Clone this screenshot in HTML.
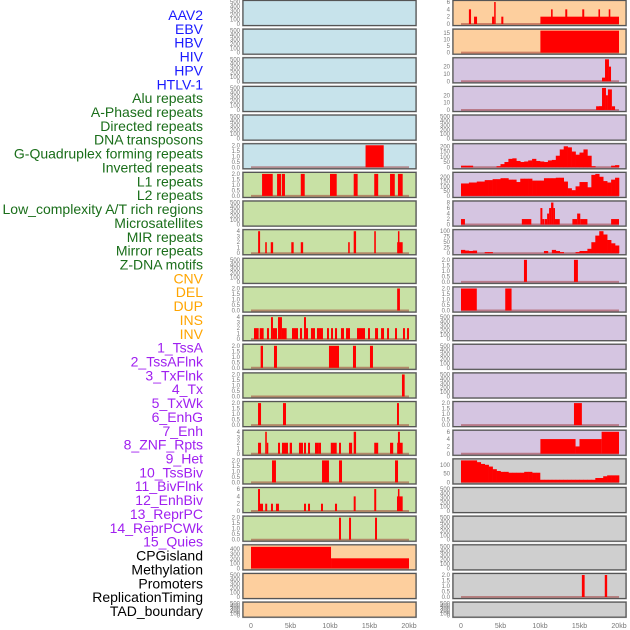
<!DOCTYPE html>
<html><head><meta charset="utf-8">
<style>
html,body{margin:0;padding:0;background:#fff;}
svg{display:block;font-family:"Liberation Sans",sans-serif;}
</style></head>
<body>
<svg id="chart" width="630" height="630" viewBox="0 0 630 630">
<g id="labels"></g>
<g id="panels"></g>
<g id="xaxis"></g>
</svg>
<script>
const trackNames = ["AAV2","EBV","HBV","HIV","HPV","HTLV-1","Alu repeats","A-Phased repeats","Directed repeats","DNA transposons","G-Quadruplex forming repeats","Inverted repeats","L1 repeats","L2 repeats","Low_complexity A/T rich regions","Microsatellites","MIR repeats","Mirror repeats","Z-DNA motifs","CNV","DEL","DUP","INS","INV","1_TssA","2_TssAFlnk","3_TxFlnk","4_Tx","5_TxWk","6_EnhG","7_Enh","8_ZNF_Rpts","9_Het","10_TssBiv","11_BivFlnk","12_EnhBiv","13_ReprPC","14_ReprPCWk","15_Quies","CPGisland","Methylation","Promoters","ReplicationTiming","TAD_boundary"];
const labelGroups = [6,13,5,15,5];
const groupColors = ["#1a1aff","#1a6e1a","#ffa500","#a020f0","#000000"];
const xTickValues = [0,5,10,15,20];
const xTickLabels = ["0","5kb","10kb","15kb","20kb"];

const leftYmax = [500,500,500,500,500,2,2,500,4,500,2,4,2,2,2,4,2,6,2,460,500,500];
const leftSegs = [
 [],[],[],[],[],
 [[14.5,16.8,2]],
 [[1.4,2.75,2],[3.3,3.8,2],[3.9,4.3,2],[6.3,6.8,2],[10.0,10.85,2],[13.0,13.5,2],[15.6,16.1,2],[17.6,18.2,2],[18.6,19.2,2]],
 [],
 [[0.9,1.15,4],[1.8,2.0,2],[2.5,2.8,2],[5.1,5.4,2],[6.3,6.6,2],[12.3,12.5,2],[13.0,13.3,4],[15.6,15.8,4],[18.5,19.2,2],[18.6,18.7,4]],
 [],
 [[18.5,18.85,2]],
 [[0.38,0.97,2],[1.1,1.6,2],[2.02,2.28,2],[2.53,2.78,4],[2.78,3.29,2],[3.42,3.67,4],[3.67,3.92,4],[3.92,4.51,2],[5.19,5.95,2],[6.2,6.46,2],[6.71,6.96,4],[6.96,7.22,2],[7.59,8.1,2],[8.35,8.61,2],[8.61,9.11,2],[9.62,9.87,2],[10.13,10.38,2],[10.63,10.89,2],[11.39,11.77,2],[12.03,12.53,2],[13.42,14.43,2],[14.81,15.06,2],[15.7,16.08,2],[16.46,16.84,2],[17.22,17.47,2],[18.23,18.48,2],[19.24,19.49,2],[19.75,20.0,2]],
 [[1.22,1.52,2],[2.91,3.29,2],[9.87,11.14,2],[12.91,13.29,2],[15.06,15.44,2]],
 [[19.11,19.45,2]],
 [[0.89,1.27,2],[4.05,4.43,2],[18.48,18.73,2]],
 [[0.89,1.27,2],[1.8,2.0,4],[2.0,2.1,2],[3.42,3.67,2],[3.92,4.68,2],[4.9,5.19,2],[6.07,6.58,2],[6.71,6.96,2],[7.22,7.47,2],[8.1,8.6,2],[8.61,8.86,2],[10.1,10.85,2],[11.14,11.39,2],[12.4,12.8,2],[13.0,13.3,4],[15.6,16.1,2],[17.6,18.0,2],[18.5,19.2,2],[18.6,18.85,4]],
 [[2.66,3.16,2],[8.99,9.87,2],[11.14,11.52,2],[18.23,18.61,2]],
 [[0.89,1.14,6],[1.14,1.52,2],[1.8,2.05,2],[2.53,2.78,2],[3.16,3.54,2],[6.71,6.96,2],[7.22,7.47,2],[8.86,9.11,2],[10.63,10.89,2],[13.0,13.25,4],[15.6,15.85,6],[18.48,19.2,4],[18.6,18.72,6]],
 [[11.14,11.39,2],[12.41,12.66,2],[15.7,15.95,2]],
 [[0,10.13,450],[10.13,20.0,210]],
 [],[]
];
const leftBg = ["#c7e3eb","#c7e3eb","#c7e3eb","#c7e3eb","#c7e3eb","#c7e3eb","#c8e1a5","#c8e1a5","#c8e1a5","#c8e1a5","#c8e1a5","#c8e1a5","#c8e1a5","#c8e1a5","#c8e1a5","#c8e1a5","#c8e1a5","#c8e1a5","#c8e1a5","#fdcf9e","#fdcf9e","#fdcf9e"];

const rightYmax = [6,17,30,30,500,210,230,8,100,2,2,500,500,500,2,6,125,500,500,500,2,500];
const rightSegs = [
 [[1.0,1.27,4],[1.65,2.03,2],[3.93,4.2,2],[4.2,4.35,6],[5.1,5.36,2],[10.05,20.0,2],[11.4,11.6,4],[13.2,13.45,4],[15.35,15.6,4],[17.4,17.6,4],[18.7,18.9,4]],
 [[10.05,20.0,17]],
 [[17.85,18.23,5],[18.23,18.73,30],[18.73,18.99,20]],
 [[17.1,18.1,5],[17.47,17.85,5],[17.85,18.35,30],[18.35,18.6,20],[18.6,19.1,28],[19.1,19.5,5]],
 [],[],[],
 [[0.0,0.5,2],[7.7,8.9,2],[10.05,10.3,6],[10.3,10.55,2],[10.6,10.9,2],[10.9,11.15,4],[11.15,11.4,6],[11.4,11.7,8],[11.7,11.9,6],[11.9,12.5,2],[14.1,14.7,2],[14.7,15.1,4],[15.1,16.0,2],[19.0,20.0,2]],
 [],
 [[7.97,8.35,2],[14.3,14.8,2]],
 [[0,2.0,2],[5.6,6.4,2]],
 [],[],[],
 [[14.3,15.3,2]],
 [[10.05,14.5,4],[14.5,15.0,2],[15.0,17.8,4],[17.8,20.0,6]],
 [],[],[],[],
 [[15.3,15.65,2],[18.2,18.5,2]],
 []
];
const g4Profile = [15,15,15,0,0,0,0,0,0,10,30,50,80,85,60,50,55,65,80,60,55,50,65,70,110,170,200,190,150,120,140,170,110,10,0,0,0,0,15,20];
const l1Profile = [130,130,140,140,150,150,165,165,175,175,185,185,170,170,145,180,180,180,160,160,160,185,185,185,190,190,150,80,60,100,145,145,90,220,230,200,155,140,170,190];
const mirProfile = [15,12,10,12,0,0,5,5,0,0,0,0,0,0,0,0,0,0,0,0,0,10,0,15,10,5,0,0,0,5,10,10,20,50,80,100,85,60,45,35];
const hetProfile = [125,125,125,125,115,105,100,90,75,65,60,60,55,55,55,55,60,60,55,55,15,15,15,15,15,15,15,15,15,15,15,15,15,15,25,25,35,40,40,40];
const profileRows = {5:g4Profile, 6:l1Profile, 8:mirProfile, 16:hetProfile};
const rightBg = ["#fdcf9e","#fdcf9e","#d5c5e1","#d5c5e1","#d5c5e1","#d5c5e1","#d5c5e1","#d5c5e1","#d5c5e1","#d5c5e1","#d5c5e1","#d5c5e1","#d5c5e1","#d5c5e1","#d5c5e1","#d5c5e1","#cfcfcf","#cfcfcf","#cfcfcf","#cfcfcf","#cfcfcf","#cfcfcf"];

const NS="http://www.w3.org/2000/svg";
function mk(tag, attrs, parent){const e=document.createElementNS(NS,tag);for(const k in attrs)e.setAttribute(k,attrs[k]);parent.appendChild(e);return e;}
const panelW=173, kbPx=7.9;
function rowTop(i){return i*28.65+0.5;}
function rowH(i){return i===21?15:25;}
function xScale(panelX,kb){return panelX+8+kb*kbPx;}

function tickSet(ymax){
  if(ymax===500) return [0,100,200,300,400,500];
  if(ymax===2) return [0,0.5,1,1.5,2];
  if(ymax===4) return [0,1,2,3,4];
  if(ymax===6) return [0,2,4,6];
  if(ymax===8) return [0,2,4,6,8];
  if(ymax===17) return [0,5,10,15];
  if(ymax===30) return [0,10,20];
  if(ymax===100) return [0,25,50,75,100];
  if(ymax===125) return [0,50,100];
  if(ymax===460) return [0,100,200,300,400];
  return [0,50,100,150,200];
}

const lg=document.getElementById('labels');
let idx=0;
labelGroups.forEach((n,gi)=>{
  for(let k=0;k<n;k++){
    const t=mk('text',{x:203,y:15+idx*13.86+5,'text-anchor':'end','font-size':'14',fill:groupColors[gi]},lg);
    t.textContent=trackNames[idx];
    
    
    idx++;
  }
});

const pg=document.getElementById('panels');
function drawPanel(col,i,panelX,bg,ymax,segs,profile){
  const top=rowTop(i), h=rowH(i);
  const g=mk('g',{},pg);
  
  
  mk('rect',{x:panelX-0.5,y:top-0.5,width:panelW+1,height:h+1,fill:'none',stroke:'#bbb','stroke-width':1},g);
  mk('rect',{x:panelX,y:top,width:panelW,height:h,fill:bg},g);
  const yS=v=>top+h-1.5-v/ymax*(h-3);
  const ticks=tickSet(ymax);
  ticks.forEach(v=>{
    const t=mk('text',{x:panelX-3,y:yS(v)+2,'text-anchor':'end','font-size':'6',fill:'#777'},g);
    t.textContent=(ymax===2)?v.toFixed(1):String(v);
    
    
  });
  const hasData=(segs&&segs.length)||profile;
  if(hasData){
    const bl=mk('line',{x1:xScale(panelX,0),x2:xScale(panelX,20),y1:yS(0),y2:yS(0),stroke:'rgba(150,30,30,0.45)','stroke-width':2},g);
    
    
  }
  if(profile){
    profile.forEach((v,b)=>{
      if(v<=0)return;
      const x0=xScale(panelX,b*0.5),x1=xScale(panelX,b*0.5+0.5);
      const r=mk('rect',{x:x0,y:yS(v),width:x1-x0+0.3,height:yS(0)-yS(v),fill:'#ff0000'},g);
      
      
    });
  }
  (segs||[]).forEach(s=>{
    const x0=xScale(panelX,s[0]),x1=xScale(panelX,s[1]);
    const r=mk('rect',{x:x0,y:yS(s[2]),width:Math.max(1.5,x1-x0),height:yS(0)-yS(s[2]),fill:'#ff0000'},g);
    
    
  });
  mk('rect',{x:panelX,y:top,width:panelW,height:h,fill:'none',stroke:'#555','stroke-width':1.2},g);
}
for(let i=0;i<22;i++){
  drawPanel('left',i,243,leftBg[i],leftYmax[i],leftSegs[i],null);
  drawPanel('right',i,453,rightBg[i],rightYmax[i],rightSegs[i],profileRows[i]||null);
}
const xg=document.getElementById('xaxis');
[243,453].forEach(px=>{
  xTickValues.forEach((v,k)=>{
    const t=mk('text',{x:xScale(px,v),y:628,'text-anchor':'middle','font-size':'7',fill:'#777'},xg);
    t.textContent=xTickLabels[k];
    
    
  });
});
</script>
</body></html>
